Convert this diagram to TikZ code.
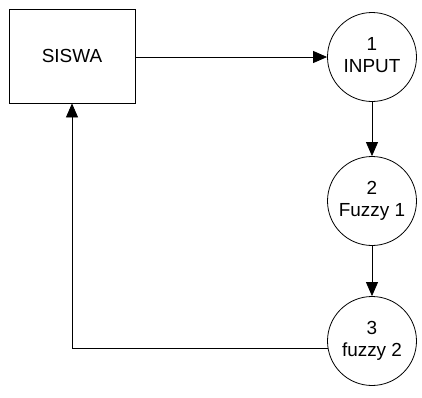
\documentclass[tikz,border=0pt]{standalone}
\usepackage{fontspec}
\setmainfont{Liberation Sans}
\usetikzlibrary{arrows.meta}
\begin{document}
\begin{tikzpicture}[x=1bp,y=-1bp,
  every node/.style={font=\fontsize{19}{23}\selectfont, align=center, inner sep=0pt},
  boxnode/.style={draw, line width=0.8bp, minimum width=126bp, minimum height=94bp},
  circnode/.style={draw, circle, line width=0.8bp, minimum size=89bp},
  conn/.style={line width=0.8bp, -{Triangle[length=14bp,width=12bp]}}]
\useasboundingbox (0,0) rectangle (422,398);
\node[boxnode] (box) at (72,56) {SISWA};
\node[circnode] (c1) at (372,57) {\raisebox{-4bp}{\begin{tabular}{@{}c@{}}1\\[-1bp]INPUT\end{tabular}}};
\node[circnode] (c2) at (372,201) {\raisebox{-4bp}{\begin{tabular}{@{}c@{}}2\\[-1bp]Fuzzy 1\end{tabular}}};
\node[circnode] (c3) at (372,341) {\raisebox{-4bp}{\begin{tabular}{@{}c@{}}3\\[-1bp]fuzzy 2\end{tabular}}};
\draw[conn] (box.east |- c1) -- (c1.west);
\draw[conn] (c1) -- (c2);
\draw[conn] (c2) -- (c3);
\draw[conn] (c3.189) -| (box.south);
\end{tikzpicture}
\end{document}
